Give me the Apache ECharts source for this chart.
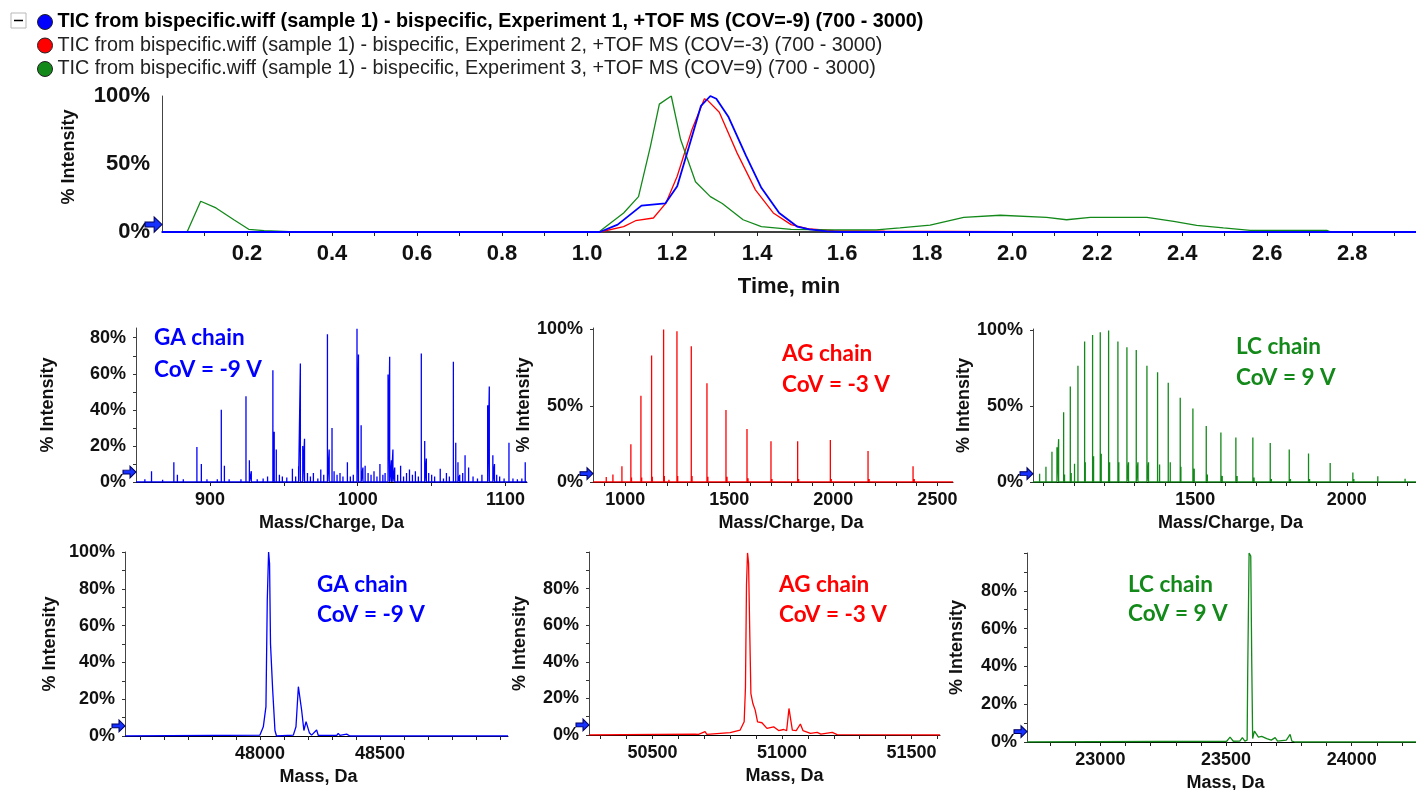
<!DOCTYPE html>
<html>
<head>
<meta charset="utf-8">
<title>Bispecific TIC and spectra</title>
<script src="https://cdn.jsdelivr.net/npm/echarts@6.0.0/dist/echarts.min.js"></script>
<style>
  html, body { margin: 0; padding: 0; background: #fff; }
  #chart { width: 1416px; height: 790px; }
</style>
</head>
<body>
<div id="chart"></div>
<script>
// ---- data ----
const ticNames = [
  'TIC from bispecific.wiff (sample 1) - bispecific, Experiment 1, +TOF MS (COV=-9) (700 - 3000)',
  'TIC from bispecific.wiff (sample 1) - bispecific, Experiment 2, +TOF MS (COV=-3) (700 - 3000)',
  'TIC from bispecific.wiff (sample 1) - bispecific, Experiment 3, +TOF MS (COV=9) (700 - 3000)',
];

// [time min, % intensity]
const ticBlue = [[0, 0], [1.03, 0], [1.072, 5.4], [1.128, 19.4], [1.184, 21], [1.212, 33.7], [1.24, 63], [1.268, 92.8],
  [1.29, 100], [1.304, 98], [1.332, 85], [1.374, 56], [1.41, 32.5], [1.452, 14], [1.494, 4], [1.523, 2], [1.565, 0.5],
  [1.6, 0], [2.95, 0]];
const ticRed = [[0.05, 0], [1.03, 0], [1.086, 4], [1.114, 8.3], [1.156, 10.3], [1.185, 21], [1.212, 41], [1.247, 75.6],
  [1.276, 98], [1.283, 97], [1.311, 88], [1.353, 58], [1.396, 31], [1.438, 14], [1.48, 5.4], [1.523, 2.2], [1.58, 1],
  [1.7, 0.6], [2.0, 0.3], [2.75, 0]];
const ticGreen = [[0.05, 0], [0.059, 0], [0.091, 22.6], [0.127, 17.7], [0.169, 9], [0.204, 2], [0.24, 1], [0.3, 0.3],
  [1.0, 0.3], [1.03, 0.5], [1.086, 14], [1.121, 26], [1.149, 63], [1.17, 94], [1.198, 100], [1.22, 68], [1.255, 37],
  [1.29, 26], [1.318, 21], [1.367, 9], [1.41, 4], [1.48, 2], [1.565, 1.5], [1.68, 1.5], [1.736, 3], [1.807, 5],
  [1.886, 10.8], [1.972, 12.3], [2.081, 10.8], [2.128, 9], [2.184, 10.8], [2.317, 10.8], [2.38, 7.8], [2.434, 4.9],
  [2.497, 3], [2.56, 1.2], [2.74, 1.2], [2.75, 0]];
const timeLabels = [0.2, 0.4, 0.6, 0.8, 1.0, 1.2, 1.4, 1.6, 1.8, 2.0, 2.2, 2.4, 2.6, 2.8];
const timeTicks = [0.1, 0.2, 0.3, 0.4, 0.5, 0.6, 0.7, 0.8, 0.9, 1.0, 1.1, 1.2, 1.3, 1.4, 1.5, 1.6, 1.7, 1.8, 1.9,
  2.0, 2.1, 2.2, 2.3, 2.4, 2.5, 2.6, 2.7, 2.8, 2.9];

// m/z stick spectra: [m/z, % intensity]
const gaMzPeaks = [[852, 1], [856, 1.5], [860.5, 6], [864, 1], [868, 1.2], [872, 1], [875.6, 11], [878, 4], [882, 1.5],
  [886, 1], [891.2, 19.4], [894.2, 10], [898, 1.5], [902, 1], [905, 1.5], [907.7, 40], [909.8, 9], [913, 1.5], [917, 1],
  [921, 1.5], [924.4, 47.6], [926.7, 12], [928, 6], [932, 1.5], [936, 2], [939, 3], [942.6, 62], [943.5, 27.8],
  [944.9, 18], [947, 4], [949, 3], [952, 2.5], [955.8, 7.4], [958, 3], [960, 8.7], [961.2, 65.7], [962.8, 20], [964, 24],
  [966, 5], [968, 3], [970, 5], [973, 2], [975, 7], [977, 4], [979.5, 82], [980.7, 18], [982.6, 30], [984, 6], [986, 4],
  [988, 5], [990, 3], [993, 11], [995, 3], [997, 4], [999.5, 85], [1000.5, 70.7], [1002.3, 31.5], [1003.5, 8],
  [1005, 9], [1007, 5], [1009, 4], [1011, 6], [1013, 3], [1015, 10], [1017, 4], [1018.5, 5], [1020.5, 59.6],
  [1021.6, 69.4], [1022.8, 12], [1023.8, 18], [1025, 8], [1027, 4], [1029, 9], [1031, 3], [1033, 5], [1035, 7],
  [1037, 4], [1039, 6], [1041, 3], [1043, 71.3], [1045.3, 22.8], [1046.4, 13], [1048, 5], [1050, 4], [1052, 3],
  [1055.8, 7.4], [1058, 2], [1060, 5], [1062, 3], [1064.7, 66.7], [1066.3, 21.7], [1067.8, 11], [1069, 4], [1071, 5],
  [1072.6, 14.8], [1075, 8], [1078, 3], [1081, 2], [1084, 4], [1087.9, 42.6], [1089, 53], [1091.4, 14.8], [1092.5, 10],
  [1094, 4], [1096, 3], [1099, 2], [1102.3, 21.7], [1105, 2], [1108, 1.5], [1111, 2], [1113.3, 11]];
const agMzPeaks = [[871.8, 1], [908.7, 3.3], [940.7, 5], [984, 10.3], [1027, 24.8], [1030, 3], [1075.3, 56.5],
  [1079, 3], [1126.6, 83], [1130, 3.5], [1184.3, 100], [1188, 4], [1210, 1.5], [1248.4, 98.9], [1252, 4],
  [1317.3, 89], [1321, 4], [1392.6, 64.8], [1397, 3.5], [1484, 47.3], [1489, 3.5], [1585, 34.7], [1590, 2.5],
  [1700.3, 26.8], [1705, 2], [1828.5, 26.8], [1833, 2], [1985.6, 27.5], [1990, 2], [2166.7, 20.4], [2172, 2],
  [2383, 10.3], [2389, 2]];
const lcMzPeaks = [[986.8, 5.5], [1007.7, 10], [1027.5, 19.9], [1044, 23], [1049.5, 28.3], [1066, 46], [1069, 5],
  [1088, 63], [1091, 6], [1102, 12], [1113.2, 76.8], [1137.4, 13], [1135.2, 92.7], [1161.5, 97], [1164.8, 17],
  [1186.8, 98.9], [1190, 18.7], [1214.3, 100], [1217.6, 13], [1245, 92.7], [1248, 13], [1274.7, 89], [1280, 13],
  [1305.5, 87.2], [1311, 13], [1340.7, 76.8], [1346, 13], [1375.8, 72.4], [1382.4, 11.6], [1411, 65.6], [1417.6, 13],
  [1450.5, 55.6], [1452.7, 10], [1492.3, 48.6], [1496.7, 8.8], [1536.3, 37], [1540, 5], [1584.6, 32.7], [1589, 4],
  [1634, 29.4], [1638, 4], [1690, 29.4], [1694, 3], [1747.3, 25.8], [1751, 2], [1810, 21.4], [1814, 2],
  [1873.6, 18.8], [1877, 2], [1945, 12.6], [2019.8, 6.2], [2023, 2], [2102, 3.8], [2192, 2.2]];

// deconvoluted mass profiles: [mass Da, % intensity]
const gaMass = [[47438, 0], [48000, 0.5], [48014, 5], [48025, 16], [48030.5, 73.8], [48036, 100], [48040, 93.7],
  [48044, 50], [48053, 25], [48062.5, 3], [48069, 0], [48139, 0.5], [48150, 5], [48160, 26.8], [48167, 26.8],
  [48173.6, 14], [48183, 3], [48192, 7.8], [48197, 8.7], [48205.6, 1.8], [48215, 0.5], [48236, 3.3], [48243, 0.3],
  [48320, 0.3], [48326, 1.4], [48333, 0.3], [48361, 1], [48375, 0], [49033, 0]];
const agMass = [[50255, 0], [50664, 0.5], [50670.5, 1.3], [50678, 0.3], [50703, 1.8], [50710, 0.3], [50800, 1.3],
  [50838.5, 2.7], [50854, 7.2], [50859, 26], [50863, 82], [50867, 99.5], [50871, 94], [50876, 53], [50880, 22.6],
  [50887.6, 17.2], [50896.6, 13.6], [50905.7, 7.2], [50922.5, 6.7], [50942, 3.6], [50967.7, 4.5], [50987, 2.4],
  [51006.5, 3], [51018, 2.4], [51027, 14.5], [51032, 13.6], [51040, 2.7], [51055, 2.4], [51071, 6], [51081, 2.4],
  [51110, 0.9], [51136, 1.4], [51150, 0.5], [51194, 1.4], [51213, 0.2], [51610, 0]];
const lcMass = [[22708, 0], [23502.7, 0.4], [23516, 2.6], [23529, 0.4], [23555, 0.5], [23565, 2.3], [23575, 0.5],
  [23584, 1], [23586.4, 38], [23591.8, 100], [23598.4, 98.4], [23602.4, 41.5], [23606, 1.8], [23613, 5.8],
  [23619.7, 4.4], [23629, 2.6], [23642, 3], [23662, 1.8], [23680, 1], [23695.5, 2.3], [23705, 0.5], [23740, 1],
  [23755, 4], [23762, 0.5], [23775, 0], [24256, 0]];

// tick labels
const gaMzLabels = [900, 1000, 1100];
const gaMzTicks = [900, 950, 1000, 1050, 1100];
const agMzLabels = [1000, 1500, 2000, 2500];
const agMzTicks = [900, 1000, 1100, 1200, 1300, 1400, 1500, 1600, 1700, 1800, 1900, 2000, 2100, 2200, 2300, 2400, 2500];
const lcMzLabels = [1500, 2000];
const lcMzTicks = [1000, 1100, 1200, 1300, 1400, 1500, 1600, 1700, 1800, 1900, 2000, 2100, 2200];
const gaMassLabels = [48000, 48500];
const gaMassTicks = [47500, 47600, 47700, 47800, 47900, 48000, 48100, 48200, 48300, 48400, 48500, 48600, 48700,
  48800, 48900, 49000];
const agMassLabels = [50500, 51000, 51500];
const agMassTicks = [50300, 50400, 50500, 50600, 50700, 50800, 50900, 51000, 51100, 51200, 51300, 51400, 51500, 51600];
const lcMassLabels = [23000, 23500, 24000];
const lcMassTicks = [22800, 22900, 23000, 23100, 23200, 23300, 23400, 23500, 23600, 23700, 23800, 23900, 24000,
  24100, 24200];
const pct0to80 = [0, 20, 40, 60, 80];
const pct0to100 = [0, 20, 40, 60, 80, 100];
const pctHalf = [0, 50, 100];
const pctTens = [0, 10, 20, 30, 40, 50, 60, 70, 80, 90, 100];

// ---- styling ----
const FONT = '"Liberation Sans", Arial, sans-serif';
const BLUE = '#0000ff';
const RED = '#ff0000';
const GREEN = '#13891a';
const ARROW = 'path://M0,4L7,4L7,0L13,6L7,12L7,8L0,8Z';

const grids = [
  { left: 162, top: 96, width: 1254, height: 136 },
  { left: 136, top: 328, width: 391, height: 154 },
  { left: 593, top: 328, width: 360, height: 154 },
  { left: 1033, top: 329, width: 383, height: 153 },
  { left: 125, top: 552, width: 383, height: 184 },
  { left: 589, top: 552, width: 351, height: 183 },
  { left: 1027, top: 553, width: 389, height: 189 },
].map(g => ({ ...g, outerBoundsMode: 'none' }));

const boldText = size => ({ fontFamily: FONT, fontWeight: 'bold', fontSize: size, color: '#111' });

function sticks(peaks, range) {
  const pts = [[range[0], 0]];
  peaks.slice().sort((a, b) => a[0] - b[0]).forEach(([x, h]) => {
    pts.push([x, 0], [x, h], [x, 0]);
  });
  pts.push([range[1], 0]);
  return pts;
}

function arrowMark(xMin, size) {
  return {
    silent: true,
    symbol: ARROW,
    symbolSize: [size, size * 0.9],
    symbolOffset: [-size / 2, 0],
    itemStyle: { color: '#1530ff', borderColor: '#000060', borderWidth: 1 },
    label: { show: false },
    data: [{ coord: [xMin, 5.5] }],
  };
}

const panels = [
  { range: [850, 1114.5], yMax: 85.4, xLabels: gaMzLabels, xTicks: gaMzTicks, yLabels: pct0to80,
    yTicks: [0, 10, 20, 30, 40, 50, 60, 70, 80], xName: 'Mass/Charge, Da', yGap: 79, namePad: 0,
    color: BLUE, data: sticks(gaMzPeaks, [850, 1114.5]) },
  { range: [845, 2575], yMax: 101, xLabels: agMzLabels, xTicks: agMzTicks, yLabels: pctHalf, yTicks: pctHalf,
    xName: 'Mass/Charge, Da', yGap: 51, namePad: 36, color: RED, data: sticks(agMzPeaks, [845, 2575]) },
  { range: [965, 2228], yMax: 101, xLabels: lcMzLabels, xTicks: lcMzTicks, yLabels: pctHalf, yTicks: pctHalf,
    xName: 'Mass/Charge, Da', yGap: 59, namePad: 12, color: GREEN, data: sticks(lcMzPeaks, [965, 2228]) },
  { range: [47438, 49033], yMax: 100, xLabels: gaMassLabels, xTicks: gaMassTicks, yLabels: pct0to100,
    yTicks: pctTens, xName: 'Mass, Da', yGap: 66, namePad: 4, color: BLUE, data: gaMass },
  { range: [50255, 51610], yMax: 100, xLabels: agMassLabels, xTicks: agMassTicks, yLabels: pct0to80,
    yTicks: pctTens, xName: 'Mass, Da', yGap: 60, namePad: 40, color: RED, data: agMass },
  { range: [22708, 24256], yMax: 100, xLabels: lcMassLabels, xTicks: lcMassTicks, yLabels: pct0to80,
    yTicks: pctTens, xName: 'Mass, Da', yGap: 61, namePad: 8, color: GREEN, data: lcMass },
];

const xAxes = [{
  type: 'value', gridIndex: 0, min: 0, max: 2.95,
  name: 'Time, min', nameLocation: 'middle', nameGap: 44, nameTextStyle: boldText(22),
  axisLine: { show: true, lineStyle: { color: '#000', width: 1.5 } },
  axisTick: { show: true, length: 4, customValues: timeTicks, lineStyle: { color: '#222' } },
  axisLabel: { customValues: timeLabels, margin: 11, formatter: v => v.toFixed(1), ...boldText(22) },
  splitLine: { show: false },
}];
const yAxes = [{
  type: 'value', gridIndex: 0, min: 0, max: 100,
  name: '% Intensity', nameLocation: 'middle', nameRotate: 90, nameGap: 84,
  nameTextStyle: { ...boldText(18), padding: [0, 0, 0, 14] },
  axisLine: { show: true, lineStyle: { color: '#444' } },
  axisTick: { show: false },
  axisLabel: { customValues: pctHalf, margin: 12, formatter: '{value}%', ...boldText(22) },
  splitLine: { show: false },
}];

const series = [
  { name: ticNames[1], type: 'line', xAxisIndex: 0, yAxisIndex: 0, data: ticRed, showSymbol: false, z: 2,
    lineStyle: { color: RED, width: 1.3 }, itemStyle: { color: RED } },
  { name: ticNames[2], type: 'line', xAxisIndex: 0, yAxisIndex: 0, data: ticGreen, showSymbol: false, z: 2,
    lineStyle: { color: GREEN, width: 1.3 }, itemStyle: { color: GREEN } },
  { name: ticNames[0], type: 'line', xAxisIndex: 0, yAxisIndex: 0, data: ticBlue, showSymbol: false, z: 3,
    lineStyle: { color: BLUE, width: 1.8 }, itemStyle: { color: BLUE }, markPoint: arrowMark(0, 17) },
];

panels.forEach((p, i) => {
  const g = i + 1;
  xAxes.push({
    type: 'value', gridIndex: g, min: p.range[0], max: p.range[1],
    name: p.xName, nameLocation: 'middle', nameGap: 32,
    nameTextStyle: { ...boldText(18), padding: [0, 0, 0, p.namePad] },
    axisLine: { show: true, lineStyle: { color: '#000', width: 1 } },
    axisTick: { show: true, length: 4, customValues: p.xTicks, lineStyle: { color: '#222' } },
    axisLabel: { customValues: p.xLabels, margin: 9, formatter: v => String(v), ...boldText(18) },
    splitLine: { show: false },
  });
  yAxes.push({
    type: 'value', gridIndex: g, min: 0, max: p.yMax,
    name: '% Intensity', nameLocation: 'middle', nameRotate: 90, nameGap: p.yGap, nameTextStyle: boldText(18),
    axisLine: { show: true, lineStyle: { color: '#444' } },
    axisTick: { show: true, length: 3, customValues: p.yTicks, lineStyle: { color: '#333' } },
    axisLabel: { customValues: p.yLabels, margin: 10, formatter: '{value}%', ...boldText(18) },
    splitLine: { show: false },
  });
  series.push({
    type: 'line', xAxisIndex: g, yAxisIndex: g, data: p.data, showSymbol: false,
    lineStyle: { color: p.color, width: 1.3 }, itemStyle: { color: p.color },
    markPoint: arrowMark(p.range[0], 13),
  });
});

const notes = [
  ['GA chain', 'CoV = -9 V', 154, 338, 370, BLUE],
  ['AG chain', 'CoV = -3 V', 782, 354, 385, RED],
  ['LC chain', 'CoV = 9 V', 1236, 347, 378, GREEN],
  ['GA chain', 'CoV = -9 V', 317, 585, 615, BLUE],
  ['AG chain', 'CoV = -3 V', 779, 585, 615, RED],
  ['LC chain', 'CoV = 9 V', 1128, 585, 614, GREEN],
];
const graphic = [
  { type: 'rect', shape: { x: 11, y: 13, width: 15, height: 15 }, style: { fill: '#fff', stroke: '#b8b8b8' } },
  { type: 'line', shape: { x1: 14, y1: 20.5, x2: 23, y2: 20.5 }, style: { stroke: '#000', lineWidth: 1.5 } },
];
notes.forEach(([a, b, x, y1, y2, color]) => {
  [[a, y1], [b, y2]].forEach(([text, y]) => {
    graphic.push({
      type: 'text', x, y,
      style: { text, fill: color, font: 'bold 22.5px Lato, "Open Sans", sans-serif', verticalAlign: 'middle' },
    });
  });
});

const chart = echarts.init(document.getElementById('chart'));
chart.setOption({
  animation: false,
  backgroundColor: '#fff',
  legend: {
    orient: 'vertical', left: 32, top: 7, itemGap: 3.5, itemWidth: 15, itemHeight: 16,
    icon: 'circle', selectedMode: false, data: ticNames,
    itemStyle: { borderColor: '#222', borderWidth: 1 },
    formatter: name => (name === ticNames[0] ? '{b|' + name + '}' : name),
    textStyle: {
      fontFamily: FONT, fontSize: 19.8, color: '#222', lineHeight: 20,
      rich: { b: { fontFamily: FONT, fontWeight: 'bold', fontSize: 19.8, color: '#000', lineHeight: 20 } },
    },
  },
  grid: grids,
  xAxis: xAxes,
  yAxis: yAxes,
  series,
  graphic,
});
</script>
</body>
</html>
